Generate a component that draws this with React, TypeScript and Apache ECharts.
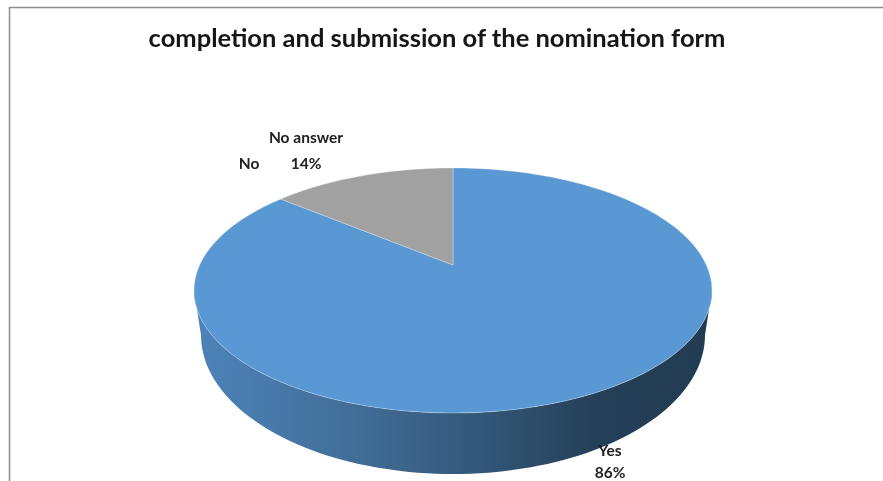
import React, { useEffect, useRef } from "react";
import * as echarts from "echarts";

const titleText = "completion and submission of the nomination form";
const categories = ["Yes", "No", "No answer"];
const shares = [86, 0, 14];
const sliceColors = ["#5a98d4", "#ed7d31", "#a1a1a1"];

// Perspective of the pie's top face (unit circle -> screen)
const CX = 453, EY = 290.5, A = 122.5, B = -25.5, K = -0.208, C = 253.3;
const project = (deg: number) => {
  const t = (deg * Math.PI) / 180;
  const u = Math.sin(t), v = -Math.cos(t);
  const d = 1 + K * v;
  return [CX + (C * u) / d, EY + (A * v + B) / d];
};
const apex = [CX, EY + B];

// Lower rim of the wall
const RIM_CX = 453, RIM_CY = 335, RIM_RX = 252, RIM_RY = 139;
// The face is widest 12 degrees below the horizontal because of the perspective
const WIDEST_SHIFT = 12;

const sampleArc = (from: number, to: number) => {
  const pts: number[][] = [];
  const n = Math.max(2, Math.ceil(Math.abs(to - from) / 1.5));
  for (let i = 0; i <= n; i++) pts.push(project(from + ((to - from) * i) / n));
  return pts;
};

const labelAnchors: Record<string, { x: number; lines: { text: string; y: number }[] }> = {
  Yes: { x: 610, lines: [{ text: "Yes", y: 450 }, { text: "86%", y: 472 }] },
  No: { x: 249, lines: [{ text: "No", y: 163 }] },
  "No answer": { x: 306, lines: [{ text: "No answer", y: 137 }, { text: "14%", y: 163 }] },
};

export default function App() {
  const ref = useRef<HTMLDivElement>(null);
  useEffect(() => {
    const chart = echarts.init(ref.current!, undefined, { renderer: "svg" });
    const total = shares.reduce((a, b) => a + b, 0);
    const starts: number[] = [];
    shares.reduce((acc, v, i) => {
      starts[i] = acc;
      return acc + v;
    }, 0);
    chart.setOption({
      animation: false,
      backgroundColor: "#ffffff",
      title: {
        text: titleText,
        left: 432,
        top: 19,
        textAlign: "center",
        textStyle: { fontFamily: "Lato", fontWeight: "bold", fontSize: 25.5, color: "#15151a" },
      },
      graphic: [
        {
          type: "polyline",
          silent: true,
          shape: { points: [[9.5, 481], [9.5, 7.5], [883, 7.5]] },
          style: { stroke: "#8c8c8c", lineWidth: 1.5, fill: "none" },
        },
      ],
      series: [
        {
          type: "custom",
          coordinateSystem: "none",
          data: categories.map((name, i) => ({ name, value: shares[i] })),
          renderItem: (params: any, api: any) => {
            const i = params.dataIndex;
            const value = api.value(0);
            const name = categories[i];
            const from = (starts[i] / total) * 360;
            const to = ((starts[i] + value) / total) * 360;
            const children: any[] = [];
            // Wall: only the arc that faces the viewer
            const wallFrom = Math.max(from, 90);
            const wallTo = Math.min(to, 270);
            if (value > 0 && wallTo > wallFrom) {
              const topEdge = sampleArc(wallFrom + WIDEST_SHIFT, wallTo - WIDEST_SHIFT);
              const lower: number[][] = [];
              for (let a = 0; a <= 180; a += 2) {
                const t = (a * Math.PI) / 180;
                lower.push([RIM_CX + RIM_RX * Math.cos(t), RIM_CY + RIM_RY * Math.sin(t)]);
              }
              children.push({
                type: "polygon",
                shape: { points: [...topEdge, ...lower.slice().reverse()] },
                style: {
                  fill: new echarts.graphic.LinearGradient(0, 0, 1, 0, [
                    { offset: 0, color: "#4c83ba" },
                    { offset: 0.3, color: "#426e99" },
                    { offset: 0.55, color: "#335878" },
                    { offset: 0.78, color: "#243f58" },
                    { offset: 1, color: "#223c52" },
                  ]),
                },
              });
            }
            if (value > 0) {
              children.push({
                type: "polygon",
                shape: { points: [apex, ...sampleArc(from, to)] },
                style: {
                  fill: sliceColors[i],
                  stroke: "rgba(225,235,245,0.45)",
                  lineWidth: 0.8,
                },
              });
            }
            const anchor = labelAnchors[name];
            anchor.lines.forEach((line) => {
              children.push({
                type: "text",
                z2: 20,
                style: {
                  text: line.text,
                  x: anchor.x,
                  y: line.y,
                  align: "center",
                  verticalAlign: "middle",
                  fontFamily: "Lato",
                  fontWeight: "bold",
                  fontSize: 15.5,
                  fill: "#202026",
                },
              });
            });
            return { type: "group", children };
          },
        },
      ],
    });
    return () => chart.dispose();
  }, []);
  return (
    <div
      ref={ref}
      style={{ position: "absolute", left: 0, top: 0, width: 883, height: 481, filter: "blur(0.6px)" }}
    />
  );
}
